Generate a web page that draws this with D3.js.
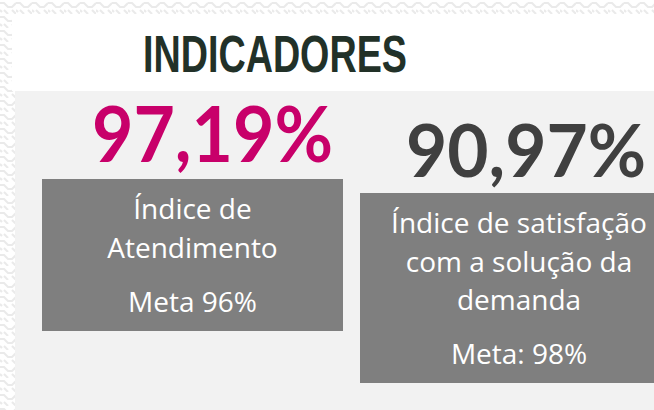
<!DOCTYPE html>
<html>
<head>
<meta charset="utf-8">
<script src="https://cdn.jsdelivr.net/npm/d3@7"></script>
<style>
  body { margin: 0; background: #fff; }
  svg { display: block; }
</style>
</head>
<body>
<div id="chart"></div>
<script>
// indicator data
var titulo = "INDICADORES";
var valores = ["97,19%", "90,97%"];
var coresValor = ["#c8006a", "#404040"];
var rotulos = [
    ["Índice de", "Atendimento"],
    ["Índice de satisfação", "com a solução da", "demanda"]
];
var metas = ["Meta 96%", "Meta: 98%"];

var width = 654, height = 410;

var svg = d3.select("#chart")
    .append("svg")
    .attr("width", width)
    .attr("height", height);

// faint background texture
var defs = svg.append("defs");
var pat = defs.append("pattern")
    .attr("id", "tex")
    .attr("width", 16)
    .attr("height", 14)
    .attr("patternUnits", "userSpaceOnUse");
pat.append("rect").attr("width", 16).attr("height", 14).attr("fill", "#fff");
pat.append("path")
    .attr("d", "M0,3 L4,3 L8,7 L12,7 L16,3 M4,10 L8,14 M12,10 L16,14 M0,10 L2,12")
    .attr("fill", "none")
    .attr("stroke", "#eaeaea")
    .attr("stroke-width", 2);

svg.append("rect")
    .attr("width", width).attr("height", height)
    .attr("fill", "url(#tex)");

// white header panel and grey body panel
svg.append("rect")
    .attr("x", 12).attr("y", 14)
    .attr("width", width - 12).attr("height", 77)
    .attr("fill", "#fff");
svg.append("rect")
    .attr("x", 15).attr("y", 91)
    .attr("width", width - 15).attr("height", height - 91)
    .attr("fill", "#f2f2f2");

svg.append("text")
    .attr("x", 143).attr("y", 72)
    .attr("textLength", 264)
    .attr("lengthAdjust", "spacingAndGlyphs")
    .attr("font-family", "'Liberation Sans Narrow', 'Liberation Sans', Arial, sans-serif")
    .attr("font-weight", "bold")
    .attr("font-size", 51)
    .attr("fill", "#223128")
    .text(titulo);

// card layout
var cards = [
    {numX: 92, numY: 162, numW: 241, numSize: 76, box: [42, 179, 301, 152]},
    {numX: 406, numY: 177, numW: 240, numSize: 72, box: [360, 193, 318, 190]}
];

var x = d3.scaleOrdinal().domain(d3.range(valores.length)).range(cards);

var g = svg.selectAll(".card")
    .data(valores)
    .enter().append("g")
    .attr("class", "card");

g.append("text")
    .attr("x", (d, i) => x(i).numX)
    .attr("y", (d, i) => x(i).numY)
    .attr("textLength", (d, i) => x(i).numW)
    .attr("lengthAdjust", "spacingAndGlyphs")
    .attr("font-family", "Lato, 'Open Sans', sans-serif")
    .attr("font-weight", "bold")
    .attr("font-size", (d, i) => x(i).numSize)
    .attr("fill", (d, i) => coresValor[i])
    .text(d => d);

g.append("rect")
    .attr("x", (d, i) => x(i).box[0])
    .attr("y", (d, i) => x(i).box[1])
    .attr("width", (d, i) => x(i).box[2])
    .attr("height", (d, i) => x(i).box[3])
    .attr("fill", "#7f7f7f");

g.each(function(d, i) {
    var b = x(i).box;
    var cx = b[0] + b[2] / 2;
    var t = d3.select(this).append("text")
        .attr("text-anchor", "middle")
        .attr("font-family", "'Open Sans', 'Noto Sans', sans-serif")
        .attr("font-size", 28)
        .attr("fill", "#fff");
    rotulos[i].forEach((linha, k) => {
        t.append("tspan")
            .attr("x", cx)
            .attr("y", b[1] + 40 + k * 38.5)
            .text(linha);
    });
    t.append("tspan")
        .attr("x", cx)
        .attr("y", b[1] + 40 + (rotulos[i].length - 1) * 38.5 + 54)
        .text(metas[i]);
});
</script>
</body>
</html>
